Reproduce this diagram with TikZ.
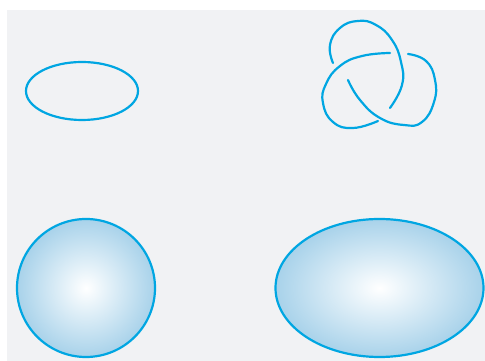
\documentclass[tikz,border=0pt]{standalone}
\definecolor{knotblue}{RGB}{0,166,226}
\definecolor{paleblue}{RGB}{168,210,234}
\definecolor{panelgrey}{RGB}{241,242,244}

\begin{document}
\begin{tikzpicture}[x=0.02cm, y=-0.02cm, line cap=round, line join=round]
  \tikzset{
    outline/.style={line width=1.25pt, draw=knotblue},
    blob/.style={outline, inner color=white, outer color=paleblue},
    strand/.style={outline, smooth, tension=0.8}
  }
  \useasboundingbox (0,0) rectangle (485,361);
  \fill[panelgrey] (7,10) rectangle (485,361);

  % ellipse top left
  \draw[outline] (82,91) ellipse [x radius=56, y radius=29];

  % trefoil knot, three strands with gaps
  \draw[strand] plot coordinates {(333,63) (330,45) (340,28) (358,21) (376,25) (392,40) (401,62) (402,85) (390,108)};
  \draw[strand] plot coordinates {(390,53) (362,56) (340,66) (326,84) (323,103) (333,122) (353,128) (378,121)};
  \draw[strand] plot coordinates {(408,54) (426,61) (435,80) (434,102) (422,122) (404,125) (380,118) (360,100) (348,80)};

  % shaded sphere and ellipsoid
  \shade[blob] (86,288) circle [radius=69];
  \shade[blob] (379.5,288) ellipse [x radius=104, y radius=69];
\end{tikzpicture}
\end{document}
